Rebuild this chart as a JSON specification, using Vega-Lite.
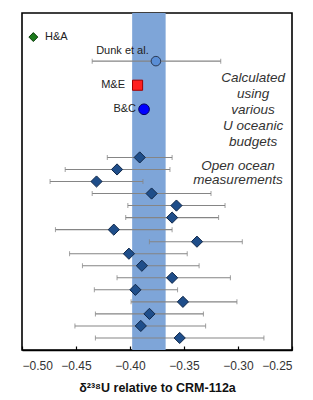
{
  "$schema": "https://vega.github.io/schema/vega-lite/v6.json",
  "autosize": "none",
  "width": 270,
  "height": 337,
  "padding": {"left": 22, "top": 13, "right": 21, "bottom": 50},
  "background": "white",
  "config": {
    "font": "Liberation Sans",
    "view": {"stroke": "#000", "strokeWidth": 1.6}
  },
  "datasets": {
    "band": [{"lo": -0.398, "hi": -0.367}],
    "points": [
      {"name": "H&A", "series": "H&A", "row": 0, "value": -0.4895},
      {"name": "Dunk et al.", "series": "Dunk et al.", "row": 2, "value": -0.376, "lo": -0.435, "hi": -0.316},
      {"name": "M&E", "series": "M&E", "row": 4, "value": -0.393},
      {"name": "B&C", "series": "B&C", "row": 6, "value": -0.387},
      {"name": "ocean 1", "series": "Open ocean", "row": 10, "value": -0.391, "lo": -0.421, "hi": -0.361},
      {"name": "ocean 2", "series": "Open ocean", "row": 11, "value": -0.412, "lo": -0.460, "hi": -0.363},
      {"name": "ocean 3", "series": "Open ocean", "row": 12, "value": -0.431, "lo": -0.474, "hi": -0.388},
      {"name": "ocean 4", "series": "Open ocean", "row": 13, "value": -0.380, "lo": -0.435, "hi": -0.325},
      {"name": "ocean 5", "series": "Open ocean", "row": 14, "value": -0.357, "lo": -0.402, "hi": -0.312},
      {"name": "ocean 6", "series": "Open ocean", "row": 15, "value": -0.361, "lo": -0.404, "hi": -0.318},
      {"name": "ocean 7", "series": "Open ocean", "row": 16, "value": -0.415, "lo": -0.469, "hi": -0.361},
      {"name": "ocean 8", "series": "Open ocean", "row": 17, "value": -0.338, "lo": -0.382, "hi": -0.296},
      {"name": "ocean 9", "series": "Open ocean", "row": 18, "value": -0.401, "lo": -0.456, "hi": -0.347},
      {"name": "ocean 10", "series": "Open ocean", "row": 19, "value": -0.389, "lo": -0.444, "hi": -0.336},
      {"name": "ocean 11", "series": "Open ocean", "row": 20, "value": -0.361, "lo": -0.412, "hi": -0.307},
      {"name": "ocean 12", "series": "Open ocean", "row": 21, "value": -0.395, "lo": -0.433, "hi": -0.356},
      {"name": "ocean 13", "series": "Open ocean", "row": 22, "value": -0.351, "lo": -0.399, "hi": -0.301},
      {"name": "ocean 14", "series": "Open ocean", "row": 23, "value": -0.382, "lo": -0.432, "hi": -0.332},
      {"name": "ocean 15", "series": "Open ocean", "row": 24, "value": -0.390, "lo": -0.451, "hi": -0.330},
      {"name": "ocean 16", "series": "Open ocean", "row": 25, "value": -0.354, "lo": -0.432, "hi": -0.276}
    ],
    "labelsLeft": [{"text": "H&A", "x": -0.4787, "row": 0}],
    "labelsCenter": [{"text": "Dunk et al.", "x": -0.407, "row": 1.15}],
    "labelsRight": [
      {"text": "M&E", "x": -0.4046, "row": 4},
      {"text": "B&C", "x": -0.3944, "row": 6}
    ],
    "notes": [
      {"text": "Calculated\nusing\nvarious\nU oceanic\nbudgets", "x": -0.286, "row": 3.36, "lh": 16},
      {"text": "Open ocean\nmeasurements", "x": -0.300, "row": 10.72, "lh": 14.3}
    ]
  },
  "encoding": {
    "y": {"field": "row", "type": "quantitative", "scale": {"domain": [-2, 26], "reverse": true, "nice": false, "zero": false}, "axis": null}
  },
  "layer": [
    {
      "data": {"name": "band"},
      "mark": {"type": "rect", "color": "#7ea5d8"},
      "encoding": {
        "y": null,
        "x": {"field": "lo", "type": "quantitative", "scale": {"domain": [-0.5, -0.25], "nice": false, "zero": false},
          "axis": {"values": [-0.5, -0.45, -0.4, -0.35, -0.3, -0.25], "format": ".2f", "domainColor": "#000", "domainWidth": 1.6, "tickColor": "#000", "tickSize": -4, "tickWidth": 1.2, "labelFontSize": 12, "labelColor": "#333", "labelPadding": 14, "grid": false,
            "title": "δ²³⁸U relative to CRM-112a", "titleFontSize": 12.5, "titleFontWeight": "bold", "titleColor": "#111", "titlePadding": 10}},
        "x2": {"field": "hi"}
      }
    },
    {
      "data": {"name": "points"},
      "transform": [{"filter": "isValid(datum.lo)"}],
      "layer": [
        {"mark": {"type": "rule", "color": "#858585", "strokeWidth": 1.1},
          "encoding": {"x": {"field": "lo", "type": "quantitative"}, "x2": {"field": "hi"}}},
        {"mark": {"type": "tick", "orient": "vertical", "color": "#858585", "size": 5, "thickness": 1.1},
          "encoding": {"x": {"field": "lo", "type": "quantitative"}}},
        {"mark": {"type": "tick", "orient": "vertical", "color": "#858585", "size": 5, "thickness": 1.1},
          "encoding": {"x": {"field": "hi", "type": "quantitative"}}}
      ]
    },
    {
      "data": {"name": "points"},
      "mark": {"type": "point", "filled": true, "opacity": 1, "strokeWidth": 1},
      "encoding": {
        "x": {"field": "value", "type": "quantitative"},
        "shape": {"field": "series", "type": "nominal", "legend": null,
          "scale": {"domain": ["H&A", "Dunk et al.", "M&E", "B&C", "Open ocean"], "range": ["diamond", "circle", "square", "circle", "diamond"]}},
        "fill": {"field": "series", "type": "nominal", "legend": null,
          "scale": {"domain": ["H&A", "Dunk et al.", "M&E", "B&C", "Open ocean"], "range": ["#1c7a1c", "#5a8ed6", "#ff1f1f", "#0000ff", "#1f4e8a"]}},
        "stroke": {"field": "series", "type": "nominal", "legend": null,
          "scale": {"domain": ["H&A", "Dunk et al.", "M&E", "B&C", "Open ocean"], "range": ["#0b3d0b", "#2a3a55", "#a00000", "#000066", "#10284a"]}},
        "size": {"field": "series", "type": "nominal", "legend": null,
          "scale": {"domain": ["H&A", "Dunk et al.", "M&E", "B&C", "Open ocean"], "range": [80, 125, 140, 100, 115]}}
      }
    },
    {
      "data": {"name": "labelsLeft"},
      "mark": {"type": "text", "align": "left", "baseline": "middle", "fontSize": 11, "color": "#222"},
      "encoding": {"x": {"field": "x", "type": "quantitative"}, "text": {"field": "text"}}
    },
    {
      "data": {"name": "labelsCenter"},
      "mark": {"type": "text", "align": "center", "baseline": "middle", "fontSize": 11, "color": "#222"},
      "encoding": {"x": {"field": "x", "type": "quantitative"}, "text": {"field": "text"}}
    },
    {
      "data": {"name": "labelsRight"},
      "mark": {"type": "text", "align": "right", "baseline": "middle", "fontSize": 11, "color": "#222"},
      "encoding": {"x": {"field": "x", "type": "quantitative"}, "text": {"field": "text"}}
    },
    {
      "data": {"name": "notes"},
      "transform": [{"filter": "datum.lh == 16"}],
      "mark": {"type": "text", "align": "center", "baseline": "middle", "fontSize": 13.5, "fontStyle": "italic", "color": "#333", "lineBreak": "\n", "lineHeight": 16},
      "encoding": {"x": {"field": "x", "type": "quantitative"}, "text": {"field": "text"}}
    },
    {
      "data": {"name": "notes"},
      "transform": [{"filter": "datum.lh != 16"}],
      "mark": {"type": "text", "align": "center", "baseline": "middle", "fontSize": 13.5, "fontStyle": "italic", "color": "#333", "lineBreak": "\n", "lineHeight": 14.3},
      "encoding": {"x": {"field": "x", "type": "quantitative"}, "text": {"field": "text"}}
    }
  ]
}
